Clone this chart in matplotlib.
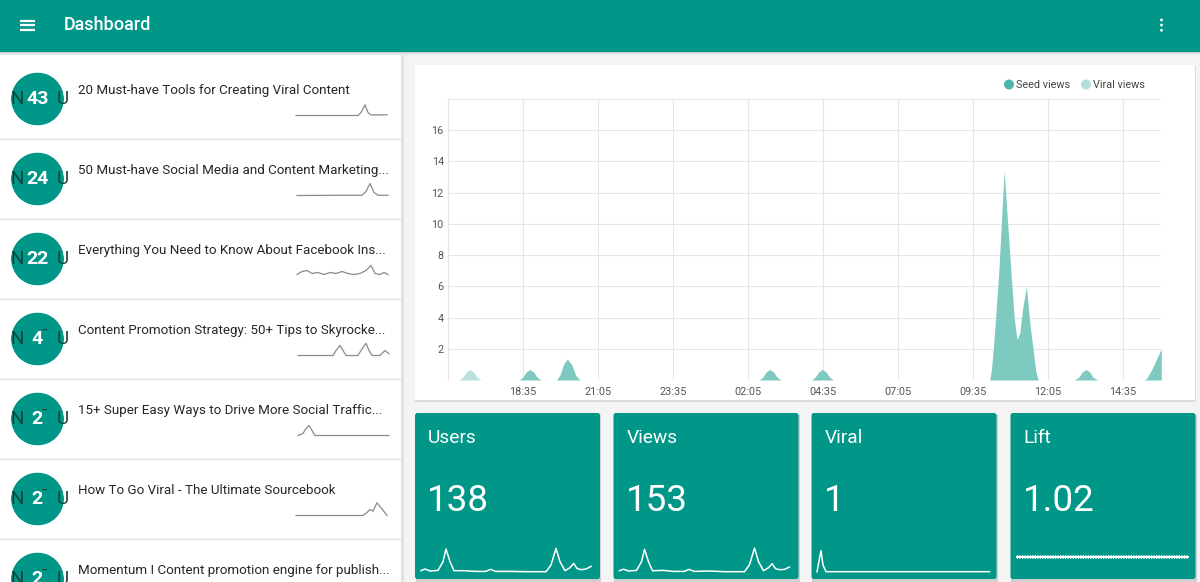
import matplotlib.pyplot as plt
from matplotlib.patches import Rectangle, Circle, FancyBboxPatch, Wedge

plt.rcParams['font.family'] = ['Roboto', 'DejaVu Sans']

W, H = 1200, 582
TEAL = '#009688'

# --- data -------------------------------------------------------------
# main chart: hours after 16:05, views
seed_t = [0, 2.37, 2.49, 2.61, 2.73, 2.85, 2.97, 3.10,
          3.62, 3.74, 3.86, 3.98, 4.12, 4.26, 4.40,
          10.37, 10.49, 10.61, 10.73, 10.85, 10.97, 11.10,
          12.12, 12.24, 12.36, 12.48, 12.60, 12.72, 12.85,
          18.06, 18.12, 18.20, 18.36, 18.54, 18.77, 18.88, 18.97, 19.06, 19.16, 19.28, 19.40, 19.51, 19.60, 19.68,
          20.87, 21.03, 21.15, 21.27, 21.39, 21.50, 21.66,
          23.21, 23.30, 23.45, 23.60, 23.78]
seed_v = [0, 0, 0.18, 0.52, 0.67, 0.52, 0.18, 0,
          0, 0.35, 1.05, 1.35, 1.0, 0.3, 0,
          0, 0.18, 0.52, 0.67, 0.52, 0.18, 0,
          0, 0.18, 0.52, 0.67, 0.52, 0.18, 0,
          0, 0.7, 2.5, 6.85, 13.4, 6.85, 3.9, 2.6, 3.0, 4.6, 6.0, 3.6, 1.9, 0.5, 0,
          0, 0.18, 0.52, 0.67, 0.52, 0.18, 0,
          0, 0.12, 0.63, 1.25, 2.0]
viral_t = [0, 0.37, 0.49, 0.61, 0.73, 0.85, 0.97, 1.10, 23.78]
viral_v = [0, 0, 0.18, 0.52, 0.67, 0.52, 0.18, 0, 0]

series_names = ['Seed views', 'Viral views']
series_dots = ['#4db6ac', '#b2dfdb']
series_fill = ['#7fcac0', '#b9e2dc']

x_ticks = [2.5, 5, 7.5, 10, 12.5, 15, 17.5, 20, 22.5]
x_labels = ['18:35', '21:05', '23:35', '02:05', '04:35', '07:05', '09:35', '12:05', '14:35']
y_ticks = [2, 4, 6, 8, 10, 12, 14, 16, 18]

# article list
titles = ['20 Must-have Tools for Creating Viral Content',
          '50 Must-have Social Media and Content Marketing...',
          'Everything You Need to Know About Facebook Ins...',
          'Content Promotion Strategy: 50+ Tips to Skyrocke...',
          '15+ Super Easy Ways to Drive More Social Traffic...',
          'How To Go Viral - The Ultimate Sourcebook',
          'Momentum I Content promotion engine for publish...']
counts = ['43', '24', '22', '4', '2', '2', '2']

# small trend lines next to each article (x in px, height in px)
trend_x = [
    [296, 358, 361, 365, 368, 371, 387],
    [297, 362, 366, 370, 374, 378, 388],
    [297, 302, 307, 312, 318, 324, 330, 336, 342, 348, 354, 360, 366, 371, 375, 380, 384, 388],
    [298, 333, 336, 340, 343, 346, 358, 361, 366, 369, 372, 380, 385, 389],
    [298, 303, 306, 309, 312, 315, 389],
    [296, 363, 367, 370, 373, 377, 380, 384, 387],
]
trend_v = [
    [0, 0, 3, 10.7, 3, 0.5, 0.7],
    [0, 0.3, 4, 12, 3, 0.3, 0.3],
    [1, 4, 5, 2, 3, 1, 3, 2, 4, 2, 1, 2, 5, 10, 2, 1, 3, 1],
    [0, 0, 5, 10, 5, 0, 0, 5, 12.3, 5, 0, 0, 5, 1.7],
    [0, 2, 7, 10, 5, 0, 0],
    [0, 0, 3, 6, 4.3, 12.7, 9, 4, 0],
]

# stat cards
card_names = ['Users', 'Views', 'Viral', 'Lift']
card_values = ['138', '153', '1', '1.02']
users_x = [6, 10, 15, 23, 28, 31, 35, 39, 50, 60, 70.6, 75.6, 80.6, 96, 111, 131,
           136, 141, 145, 150, 155, 158.7, 162, 166, 171, 176]
users_v = [1, 2.7, 0.7, 1.3, 10, 22.7, 10, 1, 1, 0.3, 0.3, 2.3, 0.3, 0.3, 0, 0,
           6.7, 23.3, 10, 1, 4, 8.3, 3.3, 2, 2.7, 5.3]
views_v = [1, 2.5, 0.7, 1.3, 10, 22.3, 10, 1, 1.3, 0.3, 0.3, 2.3, 0.3, 0.7, 0, 0,
           7, 23.7, 10, 1, 4, 8, 3, 2, 2.3, 4.7]
viral_x = [5.5, 7.5, 9.5, 11.5, 14.5, 178]
viral_s = [0, 10.7, 21, 6.7, 0, 0]
lift_x = [6.5, 177.5]
lift_s = [15, 15]
card_lines = [(users_x, users_v), (users_x, views_v), (viral_x, viral_s), (lift_x, lift_s)]
card_left = [415, 613.5, 811.5, 1010.5]


def box(x0, y0, x1, y1):
    return [x0 / W, 1 - y1 / H, (x1 - x0) / W, (y1 - y0) / H]


fig = plt.figure(figsize=(12, 5.82), dpi=100)
fig.patch.set_facecolor('#f4f4f4')
bg = fig.add_axes([0, 0, 1, 1])
bg.set_xlim(0, W)
bg.set_ylim(H, 0)
bg.axis('off')

# left panel
bg.add_patch(Rectangle((0, 52), 401, 530, color='white', lw=0))
bg.add_patch(Rectangle((401, 52), 2.5, 530, color='#e2e2e2', lw=0))
for i in range(6):
    bg.plot([0, 401], [139 + 80 * i] * 2, color='#e3e3e3', lw=1)

# list items
for i, (title, n) in enumerate(zip(titles, counts)):
    cy = 99 + 80 * i
    bg.add_patch(Circle((37.5, cy), 26.5, color=TEAL, lw=0))
    bg.text(17.5, cy + 0.5, 'N', color='#15403a', fontsize=13.5, ha='center', va='center')
    if len(n) == 1:
        bg.text(44, cy - 2, '¯', color='#15403a', fontsize=11, ha='center', va='center')
    bg.text(62.5, cy + 0.5, 'U', color='#15403a', fontsize=13.5, ha='center', va='center')
    # hide the overflow of the letters outside the round badge
    bg.add_patch(Wedge((37.5, cy), 37, 0, 360, width=10.5, color='white', lw=0))
    bg.text(37.5 if len(n) == 2 else 36.7, cy + 0.5, n, color='white', fontsize=14,
            fontweight='bold', ha='center', va='center')
    bg.text(78, cy - 8.5, title, color='#262626', fontsize=9.6, ha='left', va='center')
    if i < len(trend_x):
        bx, bv = trend_x[i], trend_v[i]
        bg.plot(bx, [cy + 16.5 - v for v in bv], color='#8a8a8a', lw=0.9)

# header
bg.add_patch(Rectangle((0, 0), W, 52, color=TEAL, lw=0))
bg.add_patch(Rectangle((0, 52), W, 1.2, color='#c9c9c9', lw=0))
bg.add_patch(Rectangle((0, 53.2), W, 1.5, color='#e6e6e6', lw=0))
for yy in [20.5, 25, 29.7]:
    bg.plot([20, 35], [yy, yy], color='white', lw=1.6, solid_capstyle='butt')
bg.text(64, 25, 'Dashboard', color='white', fontsize=13, fontweight='medium', va='center', ha='left')
for yy in [20, 25, 30.3]:
    bg.add_patch(Circle((1161.5, yy), 1.4, color='white', lw=0))

# chart card
bg.add_patch(Rectangle((415, 66), 781, 336, color='#dcdcdc', lw=0))
bg.add_patch(Rectangle((415, 65), 780, 335, color='white', lw=0))

ax = fig.add_axes(box(448, 99, 1161, 380))
ax.fill_between(seed_t, seed_v, 0, color=series_fill[0], lw=0, zorder=3)
ax.fill_between(viral_t, viral_v, 0, color=series_fill[1], lw=0, zorder=3)
ax.set_xlim(0, 23.77)
ax.set_ylim(0, 18)
ax.set_xticks(x_ticks)
ax.set_xticklabels(x_labels)
ax.set_yticks(y_ticks)
ax.set_yticklabels([str(v) for v in y_ticks[:-1]] + [''])
ax.grid(True, color='#e6e6e6', lw=0.8, zorder=0)
ax.tick_params(length=0, labelsize=7.8, labelcolor='#555555')
ax.tick_params(axis='x', pad=5)
ax.tick_params(axis='y', pad=3)
for s in ['top', 'right', 'bottom']:
    ax.spines[s].set_visible(False)
ax.spines['left'].set_color('#e6e6e6')
ax.spines['left'].set_linewidth(0.8)
ax.set_facecolor('none')

# legend
lx = [1009, 1086]
for x0, name, c in zip(lx, series_names, series_dots):
    bg.add_patch(Circle((x0, 84.5), 5, color=c, lw=0))
    bg.text(x0 + 7, 84.5, name, color='#444444', fontsize=7.8, ha='left', va='center')

# stat cards
for x0, name, val, (sx, sv) in zip(card_left, card_names, card_values, card_lines):
    bg.add_patch(Rectangle((x0 + 0.5, 414.5), 185.5, 170, color='#cfcfcf', lw=0))
    bg.add_patch(FancyBboxPatch((x0, 413), 185, 166, boxstyle='round,pad=0,rounding_size=2.5',
                                color=TEAL, lw=0))
    bg.text(x0 + 13, 438, name, color='white', fontsize=13.8, ha='left', va='center')
    bg.text(x0 + 12, 501, val, color='white', fontsize=26.5, ha='left', va='center')
    sa = fig.add_axes(box(x0, 540, x0 + 185, 580))
    sa.set_xlim(0, 185)
    sa.set_ylim(-8.3, 31.7)
    sa.axis('off')
    if name == 'Lift':
        sa.plot(sx, sv, color='white', lw=1.4)
        sa.plot(sx, sv, color='white', lw=2.6, ls=(0, (0.35, 0.35)))
    else:
        sa.plot(sx, sv, color='white', lw=1.1)

fig.savefig('out.png', dpi=100, facecolor=fig.get_facecolor())
